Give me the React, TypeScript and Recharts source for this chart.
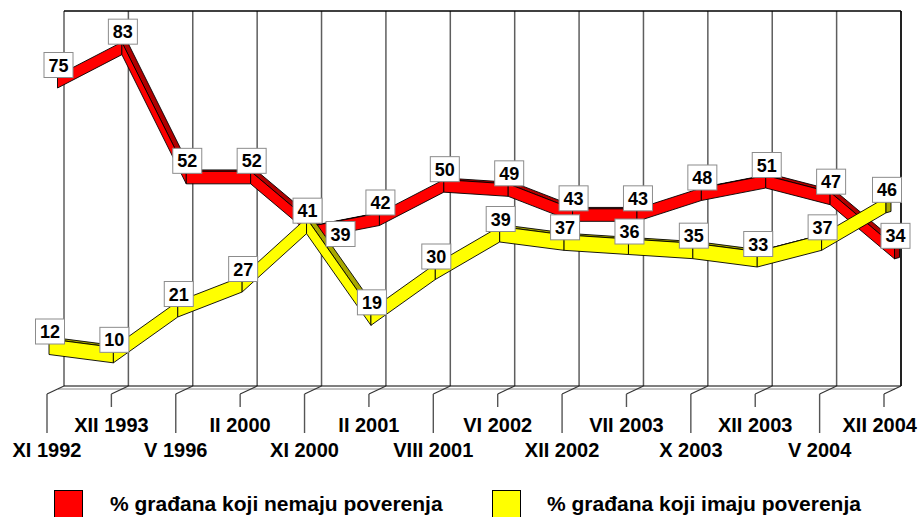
import React from 'react';
import { LineChart, Line, XAxis, YAxis, CartesianGrid, ReferenceArea, Legend } from 'recharts';

// ---- data ----
const categories = ['XI 1992', 'XII 1993', 'V 1996', 'II 2000', 'XI 2000', 'II 2001', 'VIII 2001', 'VI 2002', 'XII 2002', 'VII 2003', 'X 2003', 'XII 2003', 'V 2004', 'XII 2004'];
const nemaju = [75, 83, 52, 52, 39, 42, 50, 49, 43, 43, 48, 51, 47, 34];
const imaju = [12, 10, 21, 27, 41, 19, 30, 39, 37, 36, 35, 33, 37, 46];
const seriesNames = ['% građana koji nemaju poverenja', '% građana koji imaju poverenja'];
const yDomain = [0, 90];

const data = categories.map((c, i) => ({ cat: c, red: nemaju[i], yellow: imaju[i] }));

// ---- layout / style ----
const W = 919;
const H = 517;
const FONT = '"Liberation Sans", Arial, Helvetica, sans-serif';
const BACK = { dx: 17, dy: -8 };
const TOP_D = { dx: 5, dy: -1.4 };
const RIBBON_BOTTOM = 10.5;
const STYLE: Record<string, { face: string; top: string; ox: number; oy: number; lift: number }> = {
  red: { face: '#FF0000', top: '#B00000', ox: 10.5, oy: -4, lift: 2 },
  yellow: { face: '#FFFF00', top: '#A8A800', ox: 2, oy: 0, lift: 5 },
};

type Pt = { x: number; y: number };

function segment(key: string, a: Pt, b: Pt, isLast: boolean, k: string) {
  const st = STYLE[key];
  const A = { x: a.x + st.ox, y: a.y + st.oy - st.lift };
  const B = { x: b.x + st.ox, y: b.y + st.oy - st.lift };
  const h = RIBBON_BOTTOM + st.lift;
  const ux = B.x - A.x;
  const uy = B.y - A.y;
  const cross = ux * TOP_D.dy - uy * TOP_D.dx;
  const els: React.ReactNode[] = [];
  if (cross < 0) {
    els.push(
      <polygon
        key="t"
        points={`${A.x},${A.y} ${B.x},${B.y} ${B.x + TOP_D.dx},${B.y + TOP_D.dy} ${A.x + TOP_D.dx},${A.y + TOP_D.dy}`}
        fill={st.top}
        stroke="#000"
        strokeWidth={0.9}
        strokeLinejoin="round"
      />
    );
  }
  els.push(
    <polygon
      key="f"
      points={`${A.x},${A.y} ${B.x},${B.y} ${B.x},${B.y + h} ${A.x},${A.y + h}`}
      fill={st.face}
      stroke="#000"
      strokeWidth={0.9}
      strokeLinejoin="round"
    />
  );
  if (isLast) {
    els.push(
      <polygon
        key="e"
        points={`${B.x},${B.y} ${B.x + TOP_D.dx},${B.y + TOP_D.dy} ${B.x + TOP_D.dx},${B.y + TOP_D.dy + h} ${B.x},${B.y + h}`}
        fill={st.top}
        stroke="#000"
        strokeWidth={0.9}
        strokeLinejoin="round"
      />
    );
  }
  return <g key={k}>{els}</g>;
}

function makeRibbonDot(key: string) {
  let prev: Pt | null = null;
  return (props: any) => {
    const { cx, cy, index, points } = props;
    const n = data.length;
    if (Array.isArray(points) && points.length === n) {
      if (index >= n - 1) return <g key={`rb-${key}-${index}`} />;
      const a = { x: points[index].x, y: points[index].y };
      const b = { x: points[index + 1].x, y: points[index + 1].y };
      return segment(key, a, b, index + 1 === n - 1, `rb-${key}-${index}`);
    }
    if (index === 0 || prev === null) {
      prev = { x: cx, y: cy };
      return <g key={`rb-${key}-${index}`} />;
    }
    const a = prev;
    const b = { x: cx, y: cy };
    prev = b;
    return segment(key, a, b, index === n - 1, `rb-${key}-${index}`);
  };
}

function makeLabelDot(key: string) {
  const st = STYLE[key];
  return (props: any) => {
    const { cx, cy, index, payload, value } = props;
    const v = value != null && !Array.isArray(value) ? value : payload[key];
    const px = cx + st.ox;
    const py = cy + st.oy;
    const bw = 29;
    const bh = 25;
    let bx = px - bw / 2 + 1;
    let by = py - bh;
    // a red label colliding with a nearby yellow label is moved below-right
    if (key === 'red' && payload.red < payload.yellow && payload.yellow - payload.red < 5) {
      bx = px + 11;
      by = py - 6;
    }
    return (
      <g key={`lb-${key}-${index}`}>
        <rect x={bx} y={by} width={bw} height={bh} fill="#fff" stroke="#8c8c8c" strokeWidth={1} />
        <text x={bx + bw / 2} y={by + bh / 2 + 6.5} textAnchor="middle" fontFamily={FONT} fontWeight="bold" fontSize={18} fill="#000">
          {v}
        </text>
      </g>
    );
  };
}

const renderGridLine = (p: any) => (
  <line
    key={p.key ?? `g-${p.index}-${p.x1}`}
    x1={p.x1 + BACK.dx}
    y1={p.y1 + BACK.dy}
    x2={p.x2 + BACK.dx}
    y2={p.y2 + BACK.dy}
    stroke="#5e5e5e"
    strokeWidth={1.5}
  />
);

const renderFrame = (p: any) => {
  const { x, y, width, height } = p;
  const bx = x + BACK.dx;
  const by = y + BACK.dy;
  return (
    <g>
      <line x1={bx} y1={by} x2={bx + width} y2={by} stroke="#000" strokeWidth={1.5} />
      <line x1={bx + width} y1={by} x2={bx + width} y2={by + height} stroke="#000" strokeWidth={1.5} />
      <line x1={bx} y1={by + height} x2={bx + width} y2={by + height} stroke="#000" strokeWidth={1.2} />
      <line x1={bx - 6} y1={by + height + 3} x2={bx + width - 6} y2={by + height + 3} stroke="#8a8a8a" strokeWidth={1.2} />
    </g>
  );
};

const renderTick = (p: any) => {
  const { x, y, index, payload } = p;
  const long = index % 2 === 0;
  const isLast = index === categories.length - 1;
  return (
    <g>
      <line x1={x} y1={y} x2={x + BACK.dx} y2={y + BACK.dy} stroke="#333" strokeWidth={1.2} />
      <line x1={x} y1={y} x2={x} y2={y + (long ? 39 : 13)} stroke="#555" strokeWidth={1.4} />
      <text
        x={isLast ? W - 2 : x}
        y={y + (long ? 63 : 38)}
        textAnchor={isLast ? 'end' : 'middle'}
        fontFamily={FONT}
        fontWeight="bold"
        fontSize={20}
        fill="#000"
      >
        {payload.value}
      </text>
    </g>
  );
};

const renderLegend = () => (
  <div style={{ position: 'relative', width: W, height: 28, fontFamily: FONT, fontWeight: 'bold', fontSize: 21, lineHeight: '28px', color: '#000' }}>
    <span style={{ position: 'absolute', left: 54, top: 0, width: 27, height: 27, background: STYLE.red.face, border: '1px solid #000' }} />
    <span style={{ position: 'absolute', left: 110, top: 0, whiteSpace: 'nowrap' }}>{seriesNames[0]}</span>
    <span style={{ position: 'absolute', left: 492, top: 0, width: 27, height: 27, background: STYLE.yellow.face, border: '1px solid #000' }} />
    <span style={{ position: 'absolute', left: 547, top: 0, whiteSpace: 'nowrap' }}>{seriesNames[1]}</span>
  </div>
);

export default function App() {
  return (
    <div style={{ position: 'absolute', left: 0, top: 0, width: W, height: H, background: '#fff' }}>
      <LineChart width={W} height={H} data={data} margin={{ top: 19, right: 35, left: 47, bottom: 65 }}>
        <CartesianGrid horizontal={false} vertical={renderGridLine} />
        <ReferenceArea x1={categories[0]} x2={categories[categories.length - 1]} y1={yDomain[0]} y2={yDomain[1]} fill="none" stroke="none" shape={renderFrame} />
        <XAxis
          dataKey="cat"
          scale="point"
          padding={{ left: 0, right: 0 }}
          interval={0}
          axisLine={false}
          tickLine={false}
          tickSize={0}
          tickMargin={0}
          height={30}
          tick={renderTick}
        />
        <YAxis hide domain={yDomain} type="number" />
        <Line dataKey="red" name={seriesNames[0]} stroke="none" dot={makeRibbonDot('red')} activeDot={false} isAnimationActive={false} legendType="none" />
        <Line dataKey="yellow" name={seriesNames[1]} stroke="none" dot={makeRibbonDot('yellow')} activeDot={false} isAnimationActive={false} legendType="none" />
        <Line dataKey="red" stroke="none" dot={makeLabelDot('red')} activeDot={false} isAnimationActive={false} legendType="none" />
        <Line dataKey="yellow" stroke="none" dot={makeLabelDot('yellow')} activeDot={false} isAnimationActive={false} legendType="none" />
        <Legend verticalAlign="bottom" content={renderLegend} wrapperStyle={{ left: 0, top: 490, bottom: 'auto', width: W, height: 28 }} />
      </LineChart>
    </div>
  );
}
